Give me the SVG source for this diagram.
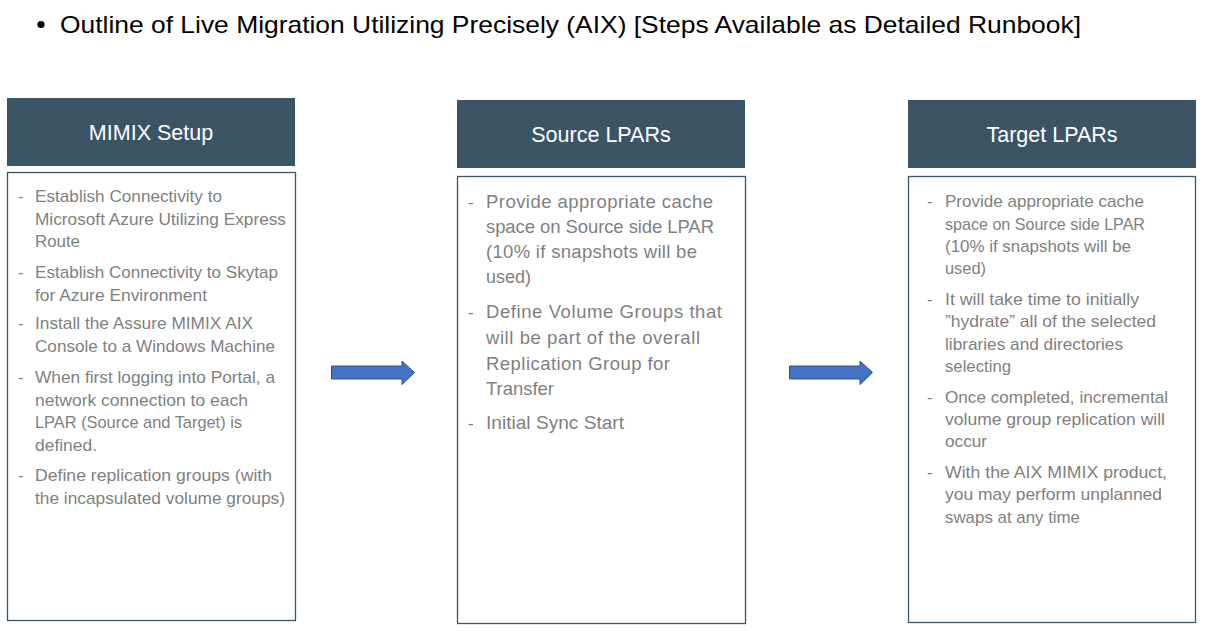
<svg xmlns="http://www.w3.org/2000/svg" width="1205" height="631" viewBox="0 0 1205 631">
<style>
.hdr{fill:#3C5566}
.body{fill:#fff;stroke:#3C5566;stroke-width:1.3}
.ht{font-family:"Liberation Sans",Arial,sans-serif;font-size:21.5px;fill:#fff;text-anchor:middle}
.t{font-family:"Liberation Sans",Arial,sans-serif;font-size:17px;fill:#7F7F7F}
.ts{font-family:"Liberation Sans",Arial,sans-serif;font-size:18.5px;fill:#7F7F7F}
.d{font-family:"Liberation Sans",Arial,sans-serif;font-size:17px;fill:#7F7F7F}
.arr{fill:#4472C4;stroke:#2F528F;stroke-width:1}
.title{font-family:"Liberation Sans",Arial,sans-serif;font-size:24px;fill:#000}
</style>
<rect width="1205" height="631" fill="#fff"/>
<g id="title">
<circle cx="41" cy="24.5" r="3.6" fill="#000"/>
<text class="title" x="60" y="33" textLength="1021" lengthAdjust="spacingAndGlyphs">Outline of Live Migration Utilizing Precisely (AIX) [Steps Available as Detailed Runbook]</text>
</g>
<g id="mimix-setup">
<rect class="hdr" x="7" y="98" width="288" height="68"/>
<text class="ht" x="151" y="140">MIMIX Setup</text>
<rect class="body" x="7.5" y="172.5" width="288" height="448"/>
<g class="d">
<text x="18" y="202">-</text><text x="18" y="278">-</text><text x="18" y="329">-</text><text x="18" y="383">-</text><text x="18" y="481">-</text>
</g>
<text class="t" x="35" y="202" textLength="187" lengthAdjust="spacingAndGlyphs">Establish Connectivity to</text>
<text class="t" x="35" y="224.5" textLength="251" lengthAdjust="spacingAndGlyphs">Microsoft Azure Utilizing Express</text>
<text class="t" x="35" y="247" textLength="45" lengthAdjust="spacingAndGlyphs">Route</text>
<text class="t" x="35" y="278" textLength="243" lengthAdjust="spacingAndGlyphs">Establish Connectivity to Skytap</text>
<text class="t" x="35" y="300.5" textLength="172" lengthAdjust="spacingAndGlyphs">for Azure Environment</text>
<text class="t" x="35" y="329" textLength="218" lengthAdjust="spacingAndGlyphs">Install the Assure MIMIX AIX</text>
<text class="t" x="35" y="351.5" textLength="240" lengthAdjust="spacingAndGlyphs">Console to a Windows Machine</text>
<text class="t" x="35" y="383" textLength="240" lengthAdjust="spacingAndGlyphs">When first logging into Portal, a</text>
<text class="t" x="35" y="405.5" textLength="213" lengthAdjust="spacingAndGlyphs">network connection to each</text>
<text class="t" x="35" y="428" textLength="207" lengthAdjust="spacingAndGlyphs">LPAR (Source and Target) is</text>
<text class="t" x="35" y="450.5" textLength="62" lengthAdjust="spacingAndGlyphs">defined.</text>
<text class="t" x="35" y="481" textLength="237" lengthAdjust="spacingAndGlyphs">Define replication groups (with</text>
<text class="t" x="35" y="503.5" textLength="250" lengthAdjust="spacingAndGlyphs">the incapsulated volume groups)</text>
</g>
<g id="source-lpars">
<rect class="hdr" x="457" y="100" width="288" height="68"/>
<text class="ht" x="601" y="142">Source LPARs</text>
<rect class="body" x="457.5" y="176.5" width="288" height="447"/>
<g class="d">
<text x="468" y="208">-</text><text x="468" y="318">-</text><text x="468" y="429">-</text>
</g>
<text class="ts" x="486" y="208" textLength="227" lengthAdjust="spacing">Provide appropriate cache</text>
<text class="ts" x="486" y="233" textLength="228" lengthAdjust="spacing">space on Source side LPAR</text>
<text class="ts" x="486" y="258" textLength="211" lengthAdjust="spacing">(10% if snapshots will be</text>
<text class="ts" x="486" y="283" textLength="45" lengthAdjust="spacingAndGlyphs">used)</text>
<text class="ts" x="486" y="318" textLength="236" lengthAdjust="spacing">Define Volume Groups that</text>
<text class="ts" x="486" y="344" textLength="214" lengthAdjust="spacing">will be part of the overall</text>
<text class="ts" x="486" y="370" textLength="184" lengthAdjust="spacing">Replication Group for</text>
<text class="ts" x="486" y="395" textLength="68" lengthAdjust="spacingAndGlyphs">Transfer</text>
<text class="ts" x="486" y="429" textLength="138" lengthAdjust="spacingAndGlyphs">Initial Sync Start</text>
</g>
<g id="target-lpars">
<rect class="hdr" x="908" y="100" width="288" height="68"/>
<text class="ht" x="1052" y="142">Target LPARs</text>
<rect class="body" x="908.5" y="176.5" width="287" height="446"/>
<g class="d">
<text x="927" y="207">-</text><text x="927" y="305">-</text><text x="927" y="403">-</text><text x="927" y="478">-</text>
</g>
<text class="t" x="945" y="207" textLength="199" lengthAdjust="spacingAndGlyphs">Provide appropriate cache</text>
<text class="t" x="945" y="230" textLength="200" lengthAdjust="spacingAndGlyphs">space on Source side LPAR</text>
<text class="t" x="945" y="252" textLength="186" lengthAdjust="spacingAndGlyphs">(10% if snapshots will be</text>
<text class="t" x="945" y="274" textLength="41" lengthAdjust="spacingAndGlyphs">used)</text>
<text class="t" x="945" y="305" textLength="194" lengthAdjust="spacingAndGlyphs">It will take time to initially</text>
<text class="t" x="945" y="327" textLength="211" lengthAdjust="spacingAndGlyphs">”hydrate” all of the selected</text>
<text class="t" x="945" y="350" textLength="178" lengthAdjust="spacingAndGlyphs">libraries and directories</text>
<text class="t" x="945" y="372" textLength="66" lengthAdjust="spacingAndGlyphs">selecting</text>
<text class="t" x="945" y="403" textLength="223" lengthAdjust="spacingAndGlyphs">Once completed, incremental</text>
<text class="t" x="945" y="425" textLength="220" lengthAdjust="spacingAndGlyphs">volume group replication will</text>
<text class="t" x="945" y="447" textLength="42" lengthAdjust="spacingAndGlyphs">occur</text>
<text class="t" x="945" y="478" textLength="222" lengthAdjust="spacingAndGlyphs">With the AIX MIMIX product,</text>
<text class="t" x="945" y="500" textLength="217" lengthAdjust="spacingAndGlyphs">you may perform unplanned</text>
<text class="t" x="945" y="523" textLength="135" lengthAdjust="spacingAndGlyphs">swaps at any time</text>
</g>
<g id="connectors">
<polygon class="arr" points="331.5,366 402,366 402,361 414.5,372.5 402,384.5 402,379 331.5,379"/>
<polygon class="arr" points="789.5,366 860,366 860,361 872.5,372.5 860,384.5 860,379 789.5,379"/>
</g>
</svg>
